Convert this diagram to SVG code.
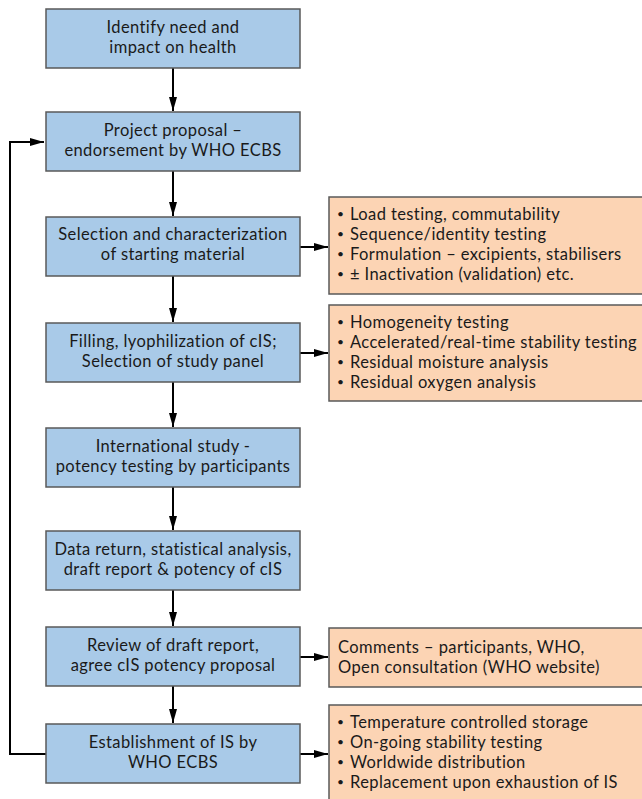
<svg xmlns="http://www.w3.org/2000/svg" width="642" height="799" viewBox="0 0 642 799">
<style>
.b{fill:#A9CAE8;stroke:#595959;stroke-width:1.5}
.o{fill:#FCD4B4;stroke:#595959;stroke-width:1.5}
text{font-family:Lato,"Open Sans",sans-serif;font-size:16.5px;letter-spacing:0.4px;fill:#1a1a1a}
.c{text-anchor:middle}
.d{font-size:12px}
.ln{fill:none;stroke:#000;stroke-width:2}
</style>
<defs>
<marker id="ah" markerUnits="userSpaceOnUse" markerWidth="14" markerHeight="10" refX="14" refY="5" orient="auto">
<path d="M0,1 L14,5 L0,9 z" fill="#000"/>
</marker>
</defs>
<rect width="642" height="799" fill="#fff"/>
<g id="connectors">
<line class="ln" x1="173" y1="68" x2="173" y2="111" marker-end="url(#ah)"/>
<line class="ln" x1="173" y1="171" x2="173" y2="216" marker-end="url(#ah)"/>
<line class="ln" x1="173" y1="276" x2="173" y2="322" marker-end="url(#ah)"/>
<line class="ln" x1="173" y1="382" x2="173" y2="427" marker-end="url(#ah)"/>
<line class="ln" x1="173" y1="487" x2="173" y2="530" marker-end="url(#ah)"/>
<line class="ln" x1="173" y1="590" x2="173" y2="626" marker-end="url(#ah)"/>
<line class="ln" x1="173" y1="686" x2="173" y2="723" marker-end="url(#ah)"/>
<polyline class="ln" points="46,754 10,754 10,142 44,142" marker-end="url(#ah)"/>
<line class="ln" x1="300" y1="247" x2="328" y2="247" marker-end="url(#ah)"/>
<line class="ln" x1="300" y1="353" x2="328" y2="353" marker-end="url(#ah)"/>
<line class="ln" x1="300" y1="657" x2="328" y2="657" marker-end="url(#ah)"/>
<line class="ln" x1="300" y1="754" x2="328" y2="754" marker-end="url(#ah)"/>
</g>
<g id="n1"><rect class="b" x="46" y="9" width="254" height="59"/>
<text class="c" x="173" y="33">Identify need and</text><text class="c" x="173" y="53">impact on health</text></g>
<g id="n2"><rect class="b" x="46" y="112" width="254" height="59"/>
<text class="c" x="173" y="136">Project proposal –</text><text class="c" x="173" y="156">endorsement by WHO ECBS</text></g>
<g id="n3"><rect class="b" x="46" y="217" width="254" height="59"/>
<text class="c" x="173" y="240">Selection and characterization</text><text class="c" x="173" y="260">of starting material</text></g>
<g id="n4"><rect class="b" x="46" y="323" width="254" height="59"/>
<text class="c" x="173" y="347">Filling, lyophilization of cIS;</text><text class="c" x="173" y="367">Selection of study panel</text></g>
<g id="n5"><rect class="b" x="46" y="428" width="254" height="59"/>
<text class="c" x="173" y="452">International study -</text><text class="c" x="173" y="472">potency testing by participants</text></g>
<g id="n6"><rect class="b" x="46" y="531" width="254" height="59"/>
<text class="c" x="173" y="555">Data return, statistical analysis,</text><text class="c" x="173" y="575">draft report &amp; potency of cIS</text></g>
<g id="n7"><rect class="b" x="46" y="627" width="254" height="59"/>
<text class="c" x="173" y="651">Review of draft report,</text><text class="c" x="173" y="671">agree cIS potency proposal</text></g>
<g id="n8"><rect class="b" x="46" y="724" width="254" height="59"/>
<text class="c" x="173" y="748">Establishment of IS by</text><text class="c" x="173" y="768">WHO ECBS</text></g>
<g id="oA"><rect class="o" x="329" y="197" width="330" height="97"/>
<text class="d" x="337" y="218">•</text><text x="350" y="220">Load testing, commutability</text>
<text class="d" x="337" y="238">•</text><text x="350" y="240">Sequence/identity testing</text>
<text class="d" x="337" y="258">•</text><text x="350" y="260">Formulation – excipients, stabilisers</text>
<text class="d" x="337" y="278">•</text><text x="350" y="280">± Inactivation (validation) etc.</text></g>
<g id="oB"><rect class="o" x="329" y="305" width="330" height="96"/>
<text class="d" x="337" y="326">•</text><text x="350" y="328">Homogeneity testing</text>
<text class="d" x="337" y="346">•</text><text x="350" y="348">Accelerated/real-time stability testing</text>
<text class="d" x="337" y="366">•</text><text x="350" y="368">Residual moisture analysis</text>
<text class="d" x="337" y="386">•</text><text x="350" y="388">Residual oxygen analysis</text></g>
<g id="oC"><rect class="o" x="329" y="628" width="330" height="59"/>
<text x="338" y="653">Comments – participants, WHO,</text>
<text x="338" y="673">Open consultation (WHO website)</text></g>
<g id="oD"><rect class="o" x="329" y="705" width="330" height="110"/>
<text class="d" x="337" y="726">•</text><text x="350" y="728">Temperature controlled storage</text>
<text class="d" x="337" y="746">•</text><text x="350" y="748">On-going stability testing</text>
<text class="d" x="337" y="766">•</text><text x="350" y="768">Worldwide distribution</text>
<text class="d" x="337" y="786">•</text><text x="350" y="788">Replacement upon exhaustion of IS</text></g>
</svg>
